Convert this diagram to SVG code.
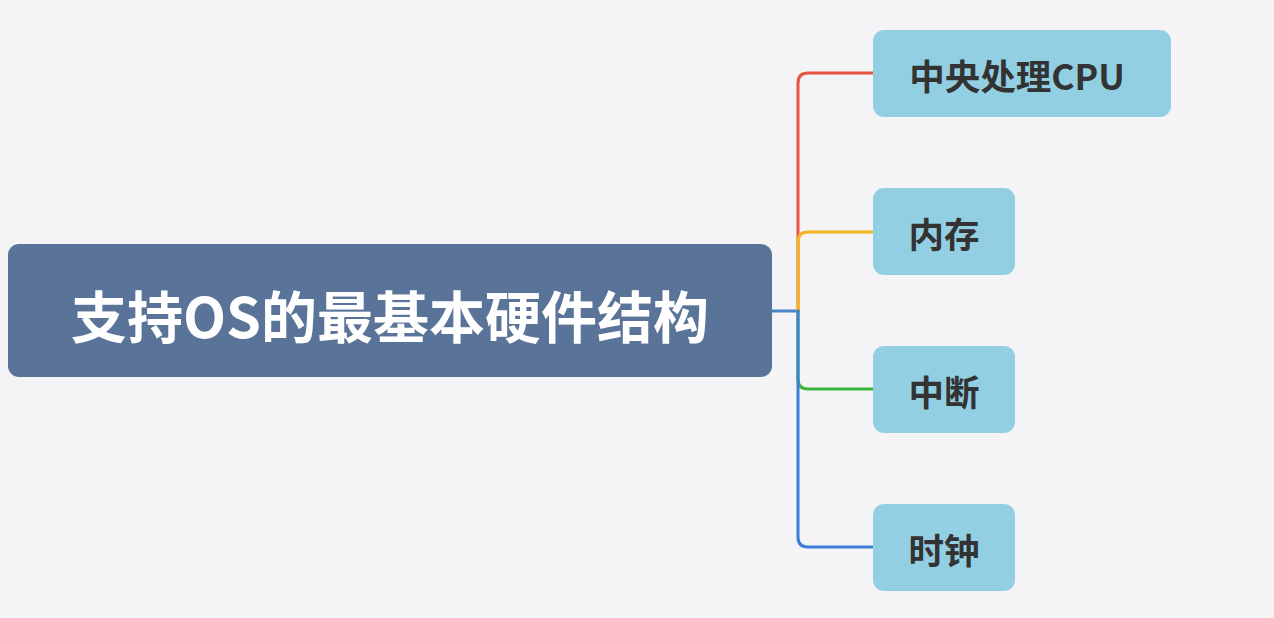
<svg xmlns="http://www.w3.org/2000/svg" width="1274" height="618" viewBox="0 0 1274 618">
<style>
.bg{fill:#f4f3f6}
.child rect{fill:#93cfe3}
.child text{font-family:"Noto Sans CJK SC","Liberation Sans",sans-serif;font-weight:bold;font-size:35.5px;fill:#333333;dominant-baseline:central}
.conn path{fill:none;stroke-width:3;stroke-linecap:round}
</style>
<rect class="bg" x="0" y="0" width="1274" height="618"/>
<g class="conn" id="connectors">
<path d="M772,311 H798" stroke="#4a86c8"/>
<path d="M798,311 V83 Q798,73 808,73 H873" stroke="#e8553e"/>
<path d="M798,311 V242 Q798,232 808,232 H873" stroke="#f5b522"/>
<path d="M798,311 V379 Q798,389 808,389 H873" stroke="#3db53d"/>
<path d="M798,311 V537 Q798,547 808,547 H873" stroke="#3a7fd5"/>
</g>
<g id="root">
<rect x="8" y="244" width="764" height="133" rx="11" fill="#5a7399"/>
<text x="390" y="313" text-anchor="middle" dominant-baseline="central" font-family="Noto Sans CJK SC,Liberation Sans,sans-serif" font-weight="bold" font-size="56" fill="#ffffff">支持OS的最基本硬件结构</text>
</g>
<g id="cpu" class="child">
<rect x="873" y="30" width="298" height="87" rx="11"/>
<text x="1017" y="74" text-anchor="middle">中央处理CPU</text>
</g>
<g id="memory" class="child">
<rect x="873" y="188" width="142" height="87" rx="11"/>
<text x="944" y="232" text-anchor="middle">内存</text>
</g>
<g id="interrupt" class="child">
<rect x="873" y="346" width="142" height="87" rx="11"/>
<text x="944" y="390" text-anchor="middle">中断</text>
</g>
<g id="clock" class="child">
<rect x="873" y="504" width="142" height="87" rx="11"/>
<text x="944" y="548" text-anchor="middle">时钟</text>
</g>
</svg>
